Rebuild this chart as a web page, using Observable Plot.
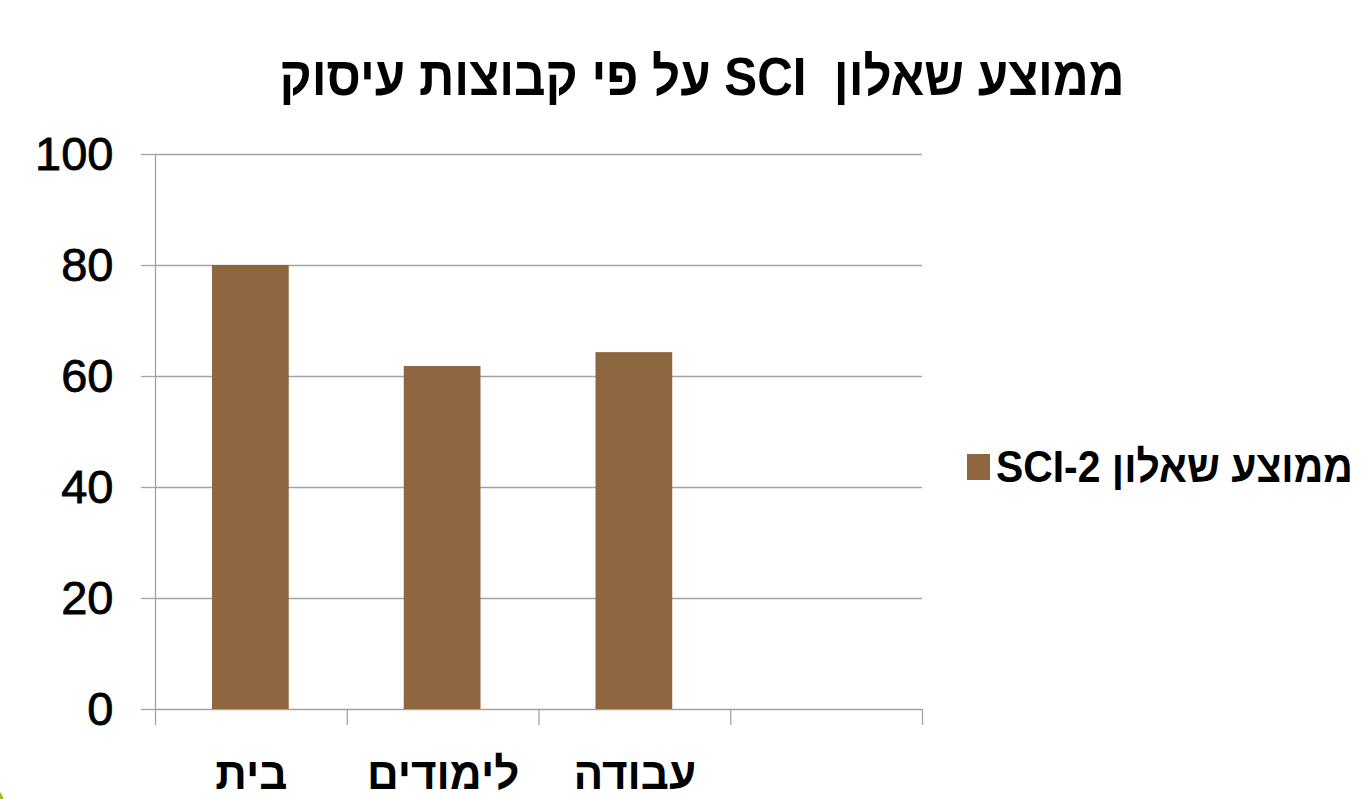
<!DOCTYPE html>
<html>
<head>
<meta charset="utf-8">
<script src="https://cdn.jsdelivr.net/npm/d3@7"></script>
<script src="https://cdn.jsdelivr.net/npm/@observablehq/plot@0.6"></script>
<style>
  html, body { margin: 0; padding: 0; background: #fff; }
  body { width: 1368px; height: 799px; position: relative; overflow: hidden; font-family: "Liberation Sans", Arial, sans-serif; }
  #title { position: absolute; top: 43px; left: 702px; white-space: pre; direction: rtl; font-weight: bold; font-size: 54px; line-height: 66px; color: #000; transform-origin: center center; }
  #chart { position: absolute; left: 0; top: 120px; }
  #legend { position: absolute; left: 967px; top: 440px; display: flex; align-items: center; direction: ltr; }
  #legend .sw { width: 23px; height: 26px; background: #8E6741; margin-right: 6px; }
  #legend .lbl { direction: rtl; white-space: nowrap; font-weight: bold; font-size: 44px; line-height: 54px; color: #000; transform-origin: left center; display: inline-block; }
  #deco { position: absolute; left: -30px; top: 786px; width: 34px; height: 34px; border-radius: 50%; background: #8dc21f; }
</style>
</head>
<body>
<div id="title"></div>
<div id="chart"></div>
<div id="legend"><div class="sw"></div><span class="lbl"></span></div>
<div id="deco"></div>
<script>
const titleText = "ממוצע שאלון  SCI על פי קבוצות עיסוק";
const seriesName = "ממוצע שאלון SCI-2";
const categories = ["בית", "לימודים", "עבודה", ""];
const values = [80, 61.8, 64.3, null];
const yTicks = [0, 20, 40, 60, 80, 100];
const barColor = "#8E6741";

const data = categories.map((c, i) => ({i, cat: c, value: values[i]}));
const boundaries = d3.range(categories.length + 1);

const plot = Plot.plot({
  width: 940,
  height: 679,
  marginTop: 34,
  marginBottom: 90,
  marginLeft: 155,
  marginRight: 18,
  style: {fontFamily: "'Liberation Sans', Arial, sans-serif", background: "#fff", overflow: "visible"},
  x: {domain: [0, categories.length], axis: null},
  y: {domain: [0, 100], axis: null},
  marks: [
    Plot.gridY(yTicks, {stroke: "#a3a3a3", strokeOpacity: 1, strokeWidth: 1.3}),
    Plot.rectY(data.filter(d => d.value != null), {
      x1: "i", x2: d => d.i + 1, y: "value",
      fill: barColor, insetLeft: 57, insetRight: 58,
      style: "filter: drop-shadow(2px 2px 2px rgba(0,0,0,0.28))"
    }),
    Plot.ruleX([0], {y1: 0, y2: 100, stroke: "#a3a3a3", strokeWidth: 1.3}),
    Plot.axisX(boundaries, {tickSize: 16, tickFormat: () => "", label: null, stroke: "#a3a3a3", strokeWidth: 1.3}),
    Plot.axisY(yTicks, {tickSize: 14, tickPadding: 28, fontSize: 47, label: null, stroke: "#a3a3a3", strokeWidth: 1.3, fill: "#000", textStroke: "#000", textStrokeWidth: 0.8, textStrokeOpacity: 1}),
    Plot.text(data, {x: d => d.i + 0.5, y: 0, text: "cat", dy: 65, fontSize: 44, fontWeight: "bold", fill: "#000"})
  ]
});
document.getElementById("chart").appendChild(plot);

// title
const t = document.getElementById("title");
t.textContent = titleText;
const tw = t.getBoundingClientRect().width;
t.style.transform = `translateX(-50%) scaleX(${845 / tw})`;

// legend
const l = document.querySelector("#legend .lbl");
l.textContent = seriesName;
const lw = l.getBoundingClientRect().width;
l.style.transform = `scaleX(${357 / lw})`;
</script>
</body>
</html>
